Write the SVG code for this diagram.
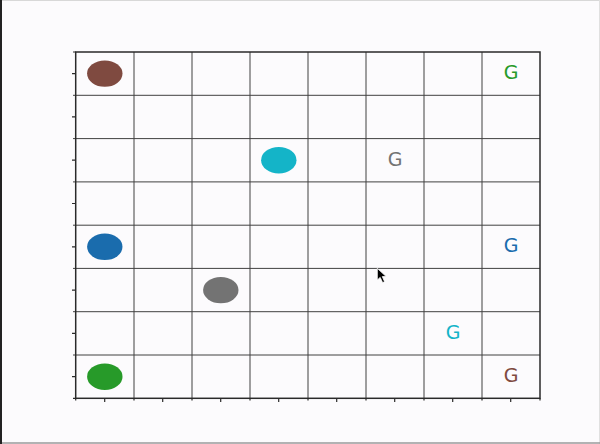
<svg xmlns="http://www.w3.org/2000/svg" width="600" height="444" viewBox="0 0 600 444">
  <style>
    .grid { stroke: #404040; stroke-width: 1; fill: none; }
    .spine { stroke: #2a2a2a; stroke-width: 1.5; fill: none; }
    .tick { stroke: #2a2a2a; stroke-width: 1.2; }
    .goal { font-family: "DejaVu Sans", sans-serif; font-size: 19px; text-anchor: middle; }
  </style>
  <rect x="0" y="0" width="600" height="444" fill="#fcfbfd"/>
  <line x1="0" y1="0.5" x2="600" y2="0.5" stroke="#d8d8d8" stroke-width="1"/>
  <line x1="599.5" y1="0" x2="599.5" y2="444" stroke="#e0e0e0" stroke-width="1"/>
  <line x1="0" y1="443" x2="600" y2="443" stroke="#9a9a9a" stroke-width="1.5"/>
  <line x1="1" y1="0" x2="1" y2="444" stroke="#222222" stroke-width="2"/>

  <g id="grid">
    <path class="grid" d="M134 52V398.3 M192 52V398.3 M250 52V398.3 M308 52V398.3 M366 52V398.3 M424 52V398.3 M482 52V398.3
      M73 95.3H540 M73 138.6H540 M73 181.9H540 M73 225.2H540 M73 268.4H540 M73 311.7H540 M73 355H540"/>
    <path class="tick" d="M72 73.6H75.7 M72 116.9H75.7 M72 160.2H75.7 M72 203.5H75.7 M72 246.8H75.7 M72 290.1H75.7 M72 333.4H75.7 M72 376.7H75.7
      M73 52H75.7 M73 398.3H75.7
      M104.7 398.3V402 M162.7 398.3V402 M220.7 398.3V402 M278.7 398.3V402 M336.7 398.3V402 M394.7 398.3V402 M452.7 398.3V402 M510.7 398.3V402
      M75.7 398.3V400.5 M134 398.3V400.5 M192 398.3V400.5 M250 398.3V400.5 M308 398.3V400.5 M366 398.3V400.5 M424 398.3V400.5 M482 398.3V400.5 M540 398.3V400.5"/>
    <rect class="spine" x="75.7" y="52" width="464.3" height="346.3"/>
  </g>

  <g id="agent-brown"><ellipse cx="104.8" cy="73.6" rx="17.7" ry="13.2" fill="#7f4a40"/></g>
  <g id="agent-cyan"><ellipse cx="278.8" cy="160.2" rx="17.7" ry="13.2" fill="#14b4c8"/></g>
  <g id="agent-blue"><ellipse cx="104.8" cy="246.8" rx="17.7" ry="13.2" fill="#1a6cad"/></g>
  <g id="agent-gray"><ellipse cx="220.8" cy="290.1" rx="17.7" ry="13.2" fill="#737373"/></g>
  <g id="agent-green"><ellipse cx="104.8" cy="376.7" rx="17.7" ry="13.2" fill="#279a29"/></g>

  <g id="goal-green"><text class="goal" x="511" y="79" fill="#279a29">G</text></g>
  <g id="goal-gray"><text class="goal" x="395" y="165.6" fill="#737373">G</text></g>
  <g id="goal-blue"><text class="goal" x="511" y="252.2" fill="#1a6cad">G</text></g>
  <g id="goal-cyan"><text class="goal" x="453" y="338.8" fill="#14b4c8">G</text></g>
  <g id="goal-brown"><text class="goal" x="511" y="382.1" fill="#7f4a40">G</text></g>

  <g id="cursor">
    <path d="M377.3 268.3 L377.3 280 L380.2 277.4 L382.6 282.6 L384.6 281.7 L382.3 276.6 L386.2 276.6 Z" fill="#000000" stroke="#ffffff" stroke-width="0.8"/>
  </g>
</svg>
